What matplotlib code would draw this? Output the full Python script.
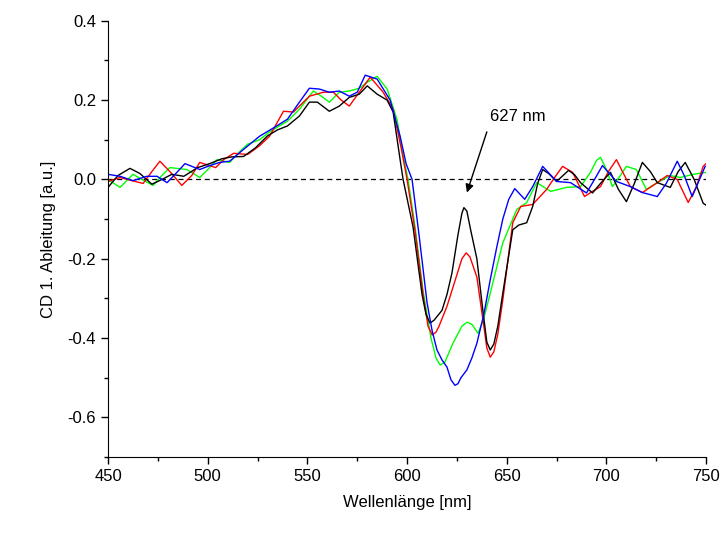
import matplotlib
matplotlib.use("Agg")
import matplotlib.pyplot as plt
from matplotlib.ticker import MultipleLocator

plt.rcParams['font.family'] = ['Liberation Sans', 'DejaVu Sans']

# values (wavelength in nm, 1st derivative CD in a.u.)
black_x = [450, 455, 461, 466, 472, 477, 482, 488, 495, 501, 507, 512, 518, 524, 530, 535, 540, 546, 551, 555,
           561, 566, 571, 576, 580, 585, 590, 593, 596.5, 598, 603, 607.5, 609.5, 611.5, 613.5, 617.5, 620,
           622.5, 625.5, 627.5, 628.5, 630, 632, 635, 638, 640, 641.7, 643.5, 645.5, 648, 653, 656, 660, 663,
           665.5, 668, 671, 675, 681, 684, 687, 693, 697, 702, 706, 710, 714, 718, 722, 725.5, 732, 736, 739.5,
           744, 748.5, 750]
black_y = [-0.02, 0.01, 0.028, 0.015, -0.012, 0.0, 0.013, 0.008, 0.03, 0.04, 0.052, 0.057, 0.058, 0.08, 0.11,
           0.125, 0.135, 0.16, 0.195, 0.195, 0.172, 0.185, 0.207, 0.215, 0.236, 0.215, 0.2, 0.17, 0.05, 0.0,
           -0.12, -0.29, -0.34, -0.362, -0.355, -0.33, -0.29, -0.236, -0.14, -0.085, -0.071, -0.08, -0.13,
           -0.2, -0.33, -0.41, -0.43, -0.415, -0.37, -0.287, -0.127, -0.115, -0.109, -0.068, -0.01, 0.025,
           0.015, -0.005, 0.023, 0.012, -0.008, -0.034, -0.01, 0.018, -0.025, -0.056, -0.01, 0.043, 0.02,
           -0.008, -0.02, 0.02, 0.043, 0.0, -0.06, -0.065]

red_x = [450, 456, 462, 467.6, 472, 476, 481, 487, 492, 496, 504, 508, 513, 520, 526, 531, 538, 543, 547, 551,
         558, 563, 567, 571, 576, 581.5, 588, 593, 597, 600, 604, 608, 610.5, 612.6, 614.5, 616, 620, 625,
         627.5, 629.6, 631.5, 635, 638.5, 640, 641.7, 643.5, 645.5, 648, 653, 657, 663, 670, 674, 678, 683,
         689, 693, 697, 701, 705, 708, 712, 718, 725.5, 730.5, 735.5, 741, 745, 748.5, 750]
red_y = [-0.005, 0.005, -0.003, -0.01, 0.02, 0.046, 0.02, -0.015, 0.01, 0.043, 0.03, 0.05, 0.066, 0.063, 0.085,
         0.109, 0.172, 0.17, 0.19, 0.21, 0.22, 0.22, 0.2, 0.185, 0.22, 0.258, 0.22, 0.177, 0.08, 0.0, -0.13,
         -0.29, -0.37, -0.392, -0.385, -0.37, -0.32, -0.24, -0.2, -0.185, -0.195, -0.246, -0.37, -0.425,
         -0.448, -0.435, -0.39, -0.304, -0.109, -0.068, -0.063, -0.025, 0.005, 0.033, 0.018, -0.043, -0.03,
         -0.018, 0.02, 0.05, 0.02, -0.018, -0.033, -0.008, 0.01, 0.0, -0.058, -0.02, 0.033, 0.04]

green_x = [450, 456, 462.5, 467, 472.6, 477, 481, 489.6, 496, 500, 504.7, 511, 515, 520, 526, 531, 540, 546,
           553, 557, 561, 566, 571, 576, 580, 585, 590, 595, 598, 600.5, 604, 608, 612, 614.5, 616.6, 619, 623,
           627.5, 630, 632.5, 635.6, 638.5, 641.7, 648, 655, 660, 665, 672, 680, 687, 692, 695, 697, 700, 703,
           707, 710, 715, 720, 725.5, 732, 737, 743.5, 750]
green_y = [0.0, -0.02, 0.013, 0.0, -0.015, 0.01, 0.03, 0.025, 0.005, 0.025, 0.05, 0.043, 0.065, 0.089, 0.1,
           0.12, 0.147, 0.177, 0.223, 0.21, 0.195, 0.22, 0.223, 0.23, 0.245, 0.26, 0.228, 0.15, 0.06, 0.0,
           -0.12, -0.28, -0.4, -0.45, -0.468, -0.46, -0.413, -0.37, -0.36, -0.365, -0.388, -0.35, -0.287,
           -0.16, -0.076, -0.058, -0.008, -0.03, -0.02, -0.018, 0.018, 0.048, 0.056, 0.025, -0.018, 0.01,
           0.033, 0.025, -0.025, -0.008, 0.01, 0.005, 0.013, 0.018]

blue_x = [450, 456, 462.5, 469.5, 474.6, 479.6, 484, 488.6, 496, 501, 506, 511, 518, 526, 533, 540, 546, 551,
          556, 561, 566, 571, 575, 579, 585, 591.5, 596.5, 599.5, 602.5, 606, 610, 612.5, 615, 617.5, 620, 622,
          624, 625.5, 627, 630, 632.5, 635, 638.5, 641.7, 645, 648, 651, 654, 659, 663, 668, 675, 682, 690, 694,
          698, 705, 712, 718, 725.5, 730, 735.5, 739, 743, 749.5]
blue_y = [0.013, 0.008, -0.003, 0.008, 0.008, -0.008, 0.015, 0.04, 0.025, 0.035, 0.043, 0.046, 0.076, 0.109,
          0.13, 0.152, 0.195, 0.23, 0.228, 0.22, 0.223, 0.21, 0.22, 0.263, 0.253, 0.2, 0.109, 0.04, 0.0, -0.14,
          -0.31, -0.38, -0.43, -0.455, -0.473, -0.505, -0.519, -0.515, -0.5, -0.48, -0.45, -0.413, -0.34,
          -0.253, -0.17, -0.1, -0.05, -0.023, -0.05, -0.018, 0.033, -0.005, -0.008, -0.034, 0.0, 0.035, -0.005,
          -0.018, -0.033, -0.043, -0.01, 0.046, 0.01, -0.043, 0.033]

fig = plt.figure(figsize=(7.25, 5.34), dpi=100)
ax = fig.add_axes([0.149, 0.144, 0.825, 0.817])

ax.plot([450, 750], [0, 0], color='black', lw=0.9, ls=(0, (4, 3)))
ax.plot(green_x, green_y, color='#00ff00', lw=1.0, solid_joinstyle='round')
ax.plot(red_x, red_y, color='#ff0000', lw=1.0, solid_joinstyle='round')
ax.plot(black_x, black_y, color='black', lw=1.0, solid_joinstyle='round')
ax.plot(blue_x, blue_y, color='#0000ff', lw=1.0, solid_joinstyle='round')

ax.annotate('', xy=(630, -0.033), xytext=(640, 0.12),
            arrowprops=dict(arrowstyle='-|>', color='black', lw=1.0, mutation_scale=12, shrinkA=0, shrinkB=0))
ax.text(641.7, 0.16, '627 nm', fontsize=12, va='center', ha='left')

ax.set_xlim(450, 750)
ax.set_ylim(-0.7, 0.4)
ax.xaxis.set_major_locator(MultipleLocator(50))
ax.xaxis.set_minor_locator(MultipleLocator(25))
ax.yaxis.set_major_locator(MultipleLocator(0.2))
ax.yaxis.set_minor_locator(MultipleLocator(0.1))
ax.yaxis.set_major_formatter(plt.FuncFormatter(lambda v, p: f'{v:.1f}'.replace('-0.0', '0.0')))
ax.tick_params(which='major', direction='out', length=5, width=1, labelsize=12)
ax.tick_params(which='minor', direction='out', length=3, width=1)
ax.spines['top'].set_visible(False)
ax.spines['right'].set_visible(False)
ax.set_xlabel('Wellenlänge [nm]', fontsize=12, labelpad=8)
ax.set_ylabel('CD 1. Ableitung [a.u.]', fontsize=12, labelpad=8)

fig.savefig('out.png', dpi=100)
